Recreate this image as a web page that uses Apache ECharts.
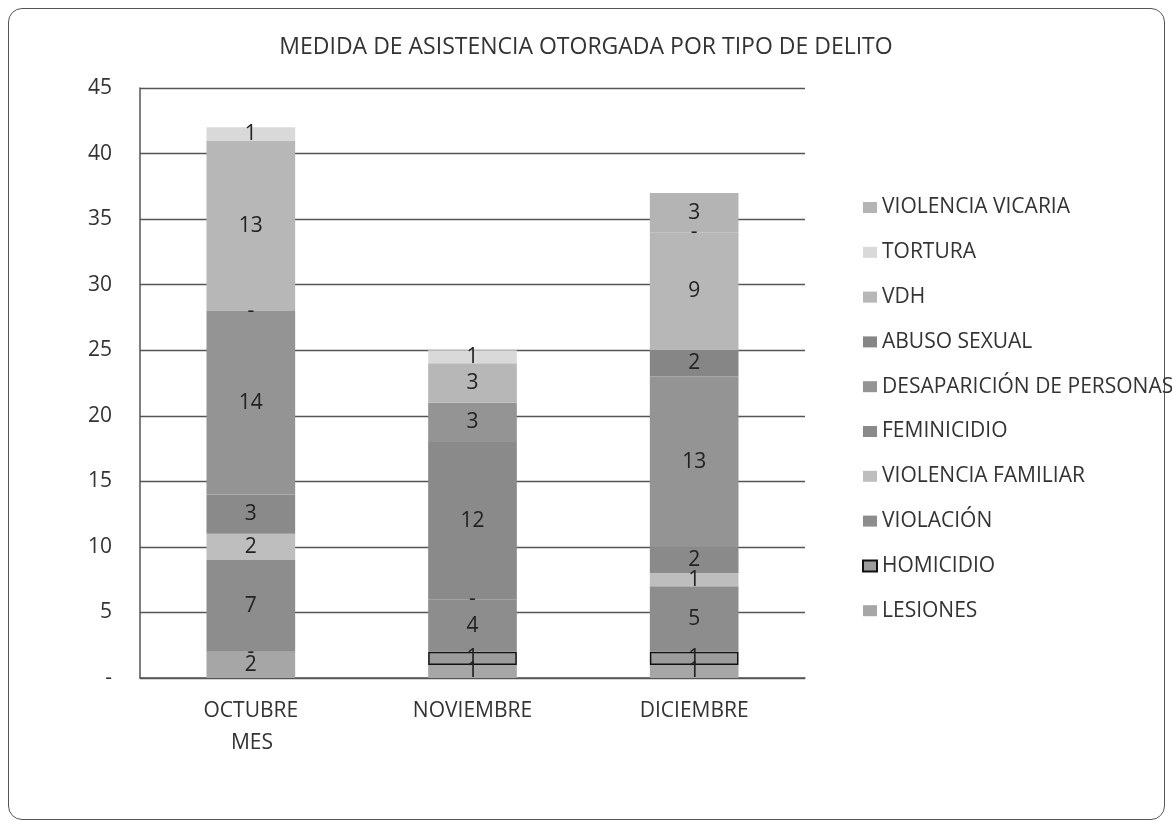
<!DOCTYPE html>
<html>
<head>
<meta charset="utf-8">
<script src="https://cdn.jsdelivr.net/npm/echarts@6/dist/echarts.min.js"></script>
<style>
html,body{margin:0;padding:0;background:#fff;}
#frame{position:absolute;left:8px;top:8px;width:1155px;height:810px;border:1.5px solid #555;border-radius:14px;}
#chart{position:absolute;left:0;top:0;width:1172px;height:825px;}
</style>
</head>
<body>
<div id="frame"></div>
<div id="chart"></div>
<script>
const title = 'MEDIDA DE ASISTENCIA OTORGADA POR TIPO DE DELITO';
const axisName = 'MES';
const months = ['OCTUBRE', 'NOVIEMBRE', 'DICIEMBRE'];
const seriesNames = ['LESIONES', 'HOMICIDIO', 'VIOLACIÓN', 'VIOLENCIA FAMILIAR', 'FEMINICIDIO',
  'DESAPARICIÓN DE PERSONAS', 'ABUSO SEXUAL', 'VDH', 'TORTURA', 'VIOLENCIA VICARIA'];
// 0 = shown as "-", null = blank cell
const lesiones = [2, 1, 1];
const homicidio = [0, 1, 1];
const violacion = [7, 4, 5];
const violenciaFamiliar = [2, 0, 1];
const feminicidio = [3, 12, 2];
const desaparicion = [14, 3, 13];
const abusoSexual = [0, null, 2];
const vdh = [13, 3, 9];
const tortura = [1, 1, 0];
const violenciaVicaria = [null, null, 3];
const yTicks = [0, 5, 10, 15, 20, 25, 30, 35, 40, 45];

const values = [lesiones, homicidio, violacion, violenciaFamiliar, feminicidio,
  desaparicion, abusoSexual, vdh, tortura, violenciaVicaria];
const colors = ['#a6a6a6', '#9c9c9c', '#8d8d8d', '#bebebe', '#8a8a8a',
  '#949494', '#868686', '#b7b7b7', '#d9d9d9', '#b4b4b4'];

const FONT = 'Open Sans';
const FS = 21;
const chart = echarts.init(document.getElementById('chart'), null, {renderer: 'canvas'});

const series = seriesNames.map((name, i) => ({
  name: name,
  type: 'bar',
  stack: 'total',
  barWidth: '40%',
  data: values[i].map(v => (i === 1 && !v) ? {value: v, itemStyle: {borderWidth: 0}} : v),
  itemStyle: {
    color: colors[i],
    borderColor: i === 1 ? '#111' : colors[i],
    borderWidth: i === 1 ? 1.5 : 0
  },
  label: {
    show: true,
    position: 'inside',
    fontFamily: FONT,
    fontSize: FS,
    color: '#222',
    formatter: p => (p.value === 0 ? '-' : (p.value == null ? '' : String(p.value)))
  },
  emphasis: {disabled: true}
}));

chart.setOption({
  backgroundColor: 'transparent',
  animation: false,
  title: [
    {text: title, left: 'center', top: 31, textStyle: {fontFamily: FONT, fontSize: 23, fontWeight: 'normal', color: '#333'}},
    {text: axisName, left: 247, top: 728, textAlign: 'center', textStyle: {fontFamily: FONT, fontSize: FS, fontWeight: 'normal', color: '#333'}}
  ],
  legend: {
    orient: 'vertical',
    left: 862,
    top: 197,
    padding: 0,
    itemWidth: 14,
    itemHeight: 11,
    itemGap: 23.8,
    icon: 'rect',
    data: seriesNames.slice().reverse(),
    textStyle: {fontFamily: FONT, fontSize: FS, lineHeight: 21, color: '#333'},
    selectedMode: false
  },
  grid: {left: 140, right: 367, top: 88, bottom: 147},
  xAxis: {
    type: 'category',
    data: months,
    axisLine: {show: true, lineStyle: {color: '#555', width: 1.5}},
    axisTick: {show: false},
    axisLabel: {fontFamily: FONT, fontSize: FS, color: '#333', margin: 23}
  },
  yAxis: {
    type: 'value',
    min: 0,
    max: 45,
    interval: 5,
    axisLine: {show: true, lineStyle: {color: '#555', width: 1.5}},
    axisTick: {show: false},
    splitLine: {lineStyle: {color: '#555', width: 1.3}},
    axisLabel: {
      fontFamily: FONT, fontSize: FS, color: '#333', margin: 28,
      formatter: v => yTicks.includes(v) ? (v === 0 ? '-' : String(v)) : ''
    }
  },
  series: series
});
</script>
</body>
</html>
